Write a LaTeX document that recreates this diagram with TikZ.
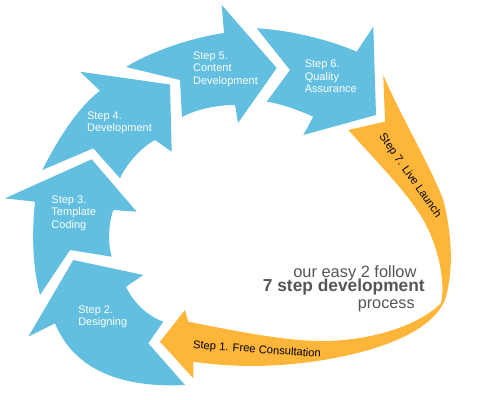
\documentclass[tikz,border=0pt]{standalone}
\usepackage{fontspec}
\setmainfont{Liberation Sans}
\usepackage{tikz}
\definecolor{stepblue}{RGB}{98,191,223}
\definecolor{steporange}{RGB}{253,181,58}
\definecolor{captiongray}{RGB}{85,85,85}

\begin{document}
\begin{tikzpicture}[x=0.75pt,y=0.75pt,yscale=-1,xscale=1,
  bluestep/.style={fill=stepblue},
  orangestep/.style={fill=steporange},
  bluelabel/.style={anchor=north west,inner sep=0pt,align=left,text=white,font=\fontsize{8.25}{9.5}\selectfont},
  orangelabel/.style={inner sep=0pt,text=black,font=\fontsize{8.4}{9}\selectfont},
  captionline/.style={anchor=base east,inner sep=0pt,text=captiongray}]
\useasboundingbox (0,0) rectangle (500,400);

%Shape: Curved Arrow
\fill[bluestep] (73.3,260) -- (143.3,275) -- (126,286.7) .. controls (132,300) and (145,315) .. (163.3,321.7) -- (148.3,343.3) -- (185,385) .. controls (125,388) and (75,372) .. (55,323.3) -- (28.3,336.7) -- cycle;
%Shape: Curved Arrow
\fill[bluestep] (91.7,159.3) -- (136.7,211.7) -- (113.3,210) .. controls (108,225) and (108,245) .. (111.7,256.7) -- (70,250) -- (40,295) .. controls (32,265) and (32,230) .. (35,201.7) -- (5,198.3) -- cycle;
%Shape: Curved Arrow
\fill[bluestep] (170,84.5) -- (171.7,151.7) -- (155,140) .. controls (140,148) and (126,165) .. (120,178.3) -- (93.3,148.3) -- (42.3,170) .. controls (55,145) and (75,110) .. (100,90.7) -- (80,71.7) -- cycle;
%Shape: Curved Arrow
\fill[bluestep] (276.7,68) -- (238,123) -- (235,105) .. controls (215,105) and (195,110) .. (182,117) -- (180,80) -- (126,67) .. controls (150,52) and (190,38) .. (224,33) -- (221.7,5) -- cycle;
%Shape: Curved Arrow
\fill[bluestep] (376,115) -- (303.3,135) -- (313.3,116.7) .. controls (298,110) and (282,104) .. (266.7,101.7) -- (290,70) -- (256.7,28.3) .. controls (290,30) and (330,40) .. (356.7,51.7) -- (373.3,26.7) -- cycle;
%Shape: Ribbon Arrow
\fill[orangestep] (383.3,75) -- (385,121.7) -- (348.3,130) .. controls (375,160) and (410,195) .. (425,223) .. controls (437,245) and (446,280) .. (441,303) .. controls (420,325) and (370,342) .. (317,341) .. controls (280,340) and (230,330) .. (188.3,321.7) -- (185,310) -- (160,341.7) -- (193.3,378.3) -- (193.3,361.7) .. controls (230,367) and (270,368) .. (317,361) .. controls (370,353) and (430,335) .. (445,300) .. controls (454,270) and (452,235) .. (443.3,200) .. controls (430,165) and (400,115) .. (383.3,75) -- cycle;

% Text Node
\node[bluelabel] (step2) at (78,305.1) {Step 2.\\Designing};
% Text Node
\node[bluelabel] (step3) at (51.2,195.1) {Step 3.\\Template\\Coding};
% Text Node
\node[bluelabel] (step4) at (86.8,111.1) {Step 4.\\Development};
% Text Node
\node[bluelabel] (step5) at (192.8,51.1) {Step 5.\\Content\\Development};
% Text Node
\node[bluelabel] (step6) at (304.5,59.5) {Step 6.\\Quality\\Assurance};
% Text Node
\node[orangelabel,rotate=-55] (step7) at (410,176) {Step 7. Live Launch};
% Text Node
\node[orangelabel,rotate=-4] (step1) at (257,350) {Step 1. Free Consultation};
% Text Node
\node[captionline,font=\fontsize{12.3}{14}\selectfont] (easy) at (416.7,277.3) {our easy 2 follow};
% Text Node
\node[captionline,font=\bfseries\fontsize{13}{15}\selectfont] (sevenstep) at (425,291.7) {7 step development};
% Text Node
\node[captionline,font=\fontsize{12.2}{14}\selectfont] (process) at (415,308.3) {process};

\end{tikzpicture}
\end{document}
